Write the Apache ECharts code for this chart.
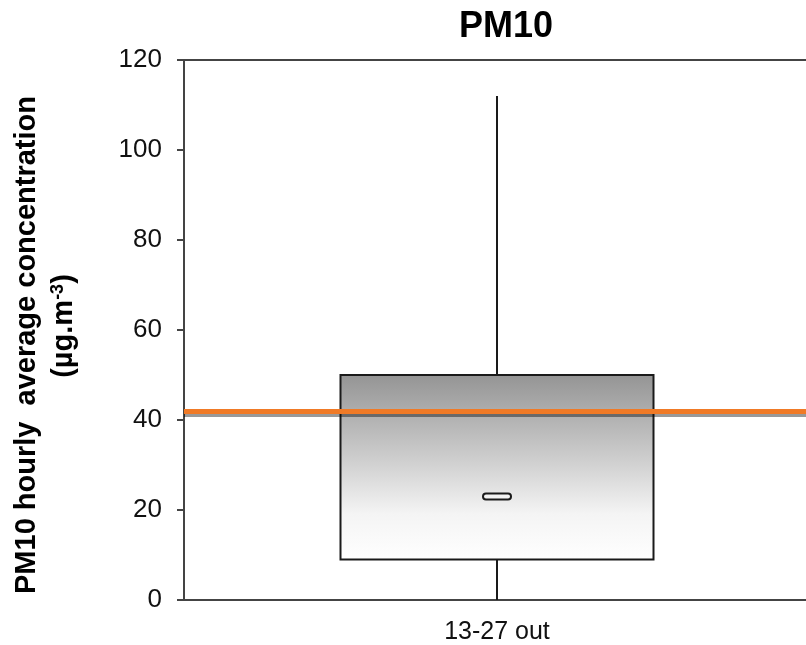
<!DOCTYPE html>
<html>
<head>
<meta charset="utf-8">
<script src="https://cdn.jsdelivr.net/npm/echarts@6/dist/echarts.min.js"></script>
<style>
  html, body { margin: 0; padding: 0; background: #fff; }
  #chart { width: 806px; height: 645px; }
</style>
</head>
<body>
<div id="chart"></div>
<script>
// box plot data
const categories = ['13-27 out']
const whiskerLow = [0]
const quartile1 = [9]
const medians = [23]
const quartile3 = [50]
const whiskerHigh = [112]
// limit value (orange line)
const limitValue = 42
const yTicks = [0, 20, 40, 60, 80, 100, 120]

const boxData = categories.map((c, i) => [i, whiskerLow[i], quartile1[i], medians[i], quartile3[i], whiskerHigh[i]])

const chart = echarts.init(document.getElementById('chart'))

function renderBox(params, api) {
  const idx = api.value(0)
  const pLow = api.coord([idx, api.value(1)])
  const pQ1 = api.coord([idx, api.value(2)])
  const pMed = api.coord([idx, api.value(3)])
  const pQ3 = api.coord([idx, api.value(4)])
  const pHigh = api.coord([idx, api.value(5)])
  const bandW = api.size([1, 0])[0]
  const boxW = bandW * 0.5
  const x = pQ1[0]
  const lineStyle = { stroke: '#1a1a1a', lineWidth: 2 }
  return {
    type: 'group',
    children: [
      { type: 'line', shape: { x1: x, y1: pHigh[1], x2: x, y2: pQ3[1] }, style: lineStyle },
      { type: 'line', shape: { x1: x, y1: pQ1[1], x2: x, y2: pLow[1] }, style: lineStyle },
      {
        type: 'rect',
        shape: { x: x - boxW / 2, y: pQ3[1], width: boxW, height: pQ1[1] - pQ3[1] },
        style: {
          fill: new echarts.graphic.LinearGradient(0, 0, 0, 1, [
            { offset: 0, color: '#949494' },
            { offset: 0.45, color: '#cdcdcd' },
            { offset: 0.75, color: '#f4f4f4' },
            { offset: 1, color: '#ffffff' }
          ]),
          stroke: '#1a1a1a',
          lineWidth: 2
        }
      },
      {
        type: 'rect',
        shape: { x: x - 14, y: pMed[1] - 3, width: 28, height: 6, r: 3 },
        style: { fill: '#f2f2f2', stroke: '#1a1a1a', lineWidth: 2 }
      }
    ]
  }
}

const option = {
  backgroundColor: '#fff',
  animation: false,
  title: {
    text: 'PM10',
    left: 501,
    top: 4,
    textAlign: 'center',
    textStyle: { fontFamily: 'Liberation Sans', fontSize: 36, fontWeight: 'bold', color: '#000' }
  },
  grid: {
    left: 184,
    width: 626,
    top: 60,
    bottom: 45,
    outerBoundsMode: 'none',
    containLabel: false,
    show: true,
    borderColor: '#444',
    borderWidth: 2
  },
  graphic: [
    {
      type: 'text',
      x: 27,
      y: 345,
      rotation: Math.PI / 2,
      style: {
        text: 'PM10 hourly  average concentration',
        font: 'bold 29px "Liberation Sans"',
        fill: '#000',
        align: 'center',
        verticalAlign: 'middle'
      }
    },
    {
      type: 'text',
      x: 64,
      y: 326,
      rotation: Math.PI / 2,
      style: {
        text: '{n|(µg.m}{s|-3}{n|)}',
        align: 'center',
        verticalAlign: 'middle',
        rich: {
          n: { font: 'bold 29px "Liberation Sans"', fill: '#000' },
          s: { font: 'bold 18px "Liberation Sans"', fill: '#000', verticalAlign: 'top', padding: [0, 0, 11, 0] }
        }
      }
    }
  ],
  xAxis: {
    type: 'category',
    data: categories,
    axisLine: { lineStyle: { color: '#444', width: 2 } },
    axisTick: { show: false },
    axisLabel: { margin: 20, fontFamily: 'Liberation Sans', fontSize: 25, color: '#111' }
  },
  yAxis: {
    type: 'value',
    min: 0,
    max: 120,
    interval: 20,
    splitLine: { show: false },
    axisLine: { show: true, lineStyle: { color: '#444', width: 2 } },
    axisTick: { show: true, length: 7, lineStyle: { color: '#444', width: 2 } },
    axisLabel: {
      margin: 22,
      fontFamily: 'Liberation Sans',
      fontSize: 26,
      color: '#111',
      formatter: v => (yTicks.includes(v) ? String(v) : '')
    }
  },
  series: [
    {
      type: 'custom',
      renderItem: renderBox,
      data: boxData,
      encode: { x: 0, y: [1, 2, 3, 4, 5] },
      markLine: {
        silent: true,
        symbol: 'none',
        z: 10,
        label: { show: false },
        lineStyle: {
          type: 'solid',
          color: '#f07a26',
          width: 5,
          shadowColor: 'rgba(0,0,0,0.4)',
          shadowOffsetY: 3,
          shadowBlur: 0
        },
        data: [{ yAxis: limitValue }]
      }
    }
  ]
}

chart.setOption(option)
</script>
</body>
</html>
